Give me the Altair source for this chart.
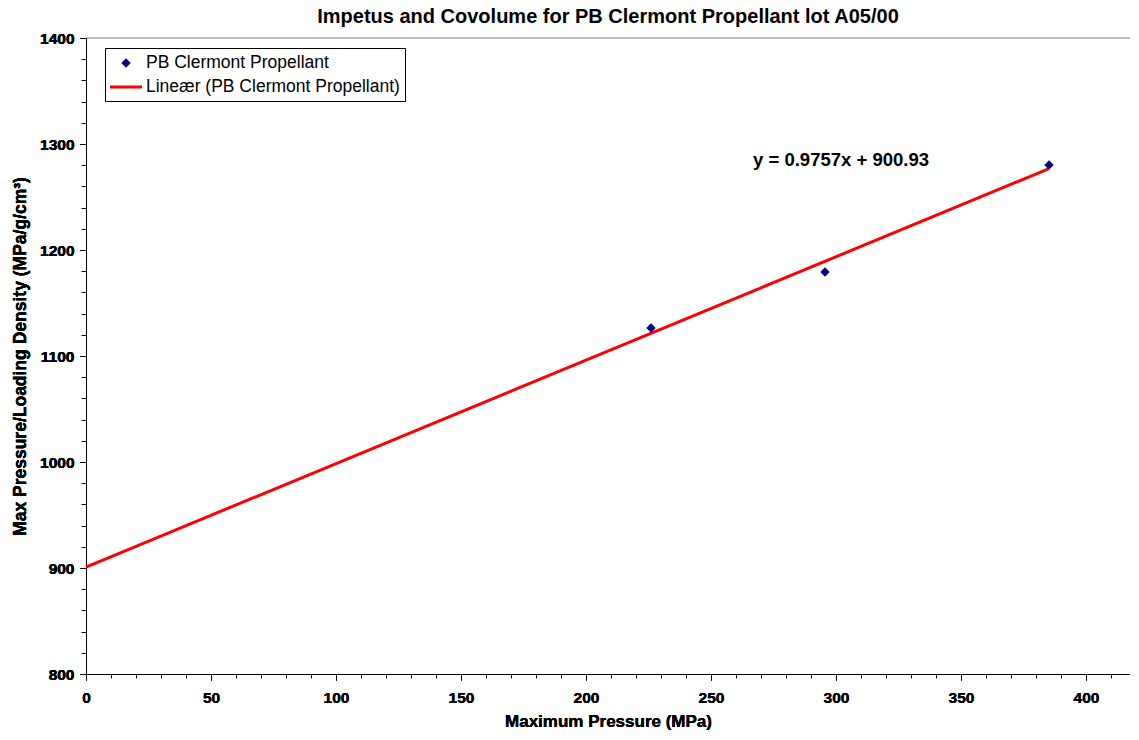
import altair as alt
import pandas as pd

# data
pressure = [226.0, 295.6, 385.2]
impetus_ratio = [1126.4, 1179.2, 1280.2]
trend_x = [0.0, 385.2]
trend_y = [900.93, 1276.77]
eq_label = ["y = 0.9757x + 900.93"]
eq_x = [302.0]
eq_y = [1285.0]
top_line = [1400]

series_pts = "PB Clermont Propellant"
series_lin = "Lineær (PB Clermont Propellant)"

FONT = "Liberation Sans"

pts = pd.DataFrame({"x": pressure, "y": impetus_ratio, "series": [series_pts] * 3})
lin = pd.DataFrame({"x": trend_x, "y": trend_y, "series": [series_lin] * 2})
eq = pd.DataFrame({"x": eq_x, "y": eq_y, "t": eq_label})
top = pd.DataFrame({"y": top_line})

W = 1044
xs = alt.Scale(domain=[0, W / 2.5], nice=False)
ys = alt.Scale(domain=[800, 1400], nice=False)
dom = [series_pts, series_lin]
color_scale = alt.Scale(domain=dom, range=["#000080", "#FF0000"])
shape_scale = alt.Scale(domain=dom, range=["M0,-0.47L0.47,0L0,0.47L-0.47,0Z",
                                           "M-1.6,-0.15H1.6V0.15H-1.6Z"])

legend = alt.Legend(title=None, orient="none", legendX=19, legendY=10,
                    strokeColor="black", fillColor="white", padding=5,
                    symbolSize=400, symbolOffset=6, labelOffset=10, rowPadding=5,
                    symbolStrokeWidth=0, labelFont=FONT, labelFontSize=17.5,
                    labelColor="black", labelLimit=400)

x_main = alt.Axis(values=list(range(0, 401, 50)), tickSize=6, labelFontSize=15.5,
                  labelFont=FONT, labelFontWeight="bold", labelColor="black",
                  labelPadding=10, domainColor="black", tickColor="black",
                  title="Maximum Pressure (MPa)", titleFont=FONT, titleFontSize=17,
                  titleFontWeight="bold", titleColor="black", titlePadding=8,
                  grid=False, orient="bottom", labelFlush=False, format="d")
y_main = alt.Axis(values=list(range(800, 1401, 100)), tickSize=6, labelFontSize=15.5,
                  labelFont=FONT, labelFontWeight="bold", labelColor="black",
                  labelPadding=6, domainColor="black", tickColor="black",
                  title="Max Pressure/Loading Density (MPa/g/cm³)", titleFont=FONT,
                  titleFontSize=17.5, titleFontWeight="bold", titleColor="black",
                  titlePadding=10, grid=False, orient="left", labelFlush=False,
                  format="d")
x_minor = alt.Axis(values=list(range(0, 421, 10)), tickSize=4, labels=False,
                   title=None, domainColor="black", tickColor="black", grid=False,
                   orient="bottom")
y_minor = alt.Axis(values=list(range(800, 1401, 20)), tickSize=5, labels=False,
                   title=None, domainColor="black", tickColor="black", grid=False,
                   orient="left")

minor = alt.Chart(pts).mark_point(opacity=0).encode(
    x=alt.X("x:Q", scale=xs, axis=x_minor),
    y=alt.Y("y:Q", scale=ys, axis=y_minor),
)

top_rule = alt.Chart(top).mark_rule(color="#808080", strokeWidth=1).encode(
    y=alt.Y("y:Q", scale=ys, axis=y_main)
)

line = alt.Chart(lin).mark_line(strokeWidth=3).encode(
    x=alt.X("x:Q", scale=xs, axis=x_main),
    y=alt.Y("y:Q", scale=ys, axis=y_main),
    color=alt.Color("series:N", scale=color_scale, legend=legend),
)

points = alt.Chart(pts).mark_point(filled=True, size=400, opacity=1).encode(
    x=alt.X("x:Q", scale=xs, axis=x_main),
    y=alt.Y("y:Q", scale=ys, axis=y_main),
    color=alt.Color("series:N", scale=color_scale, legend=legend),
    shape=alt.Shape("series:N", scale=shape_scale, legend=legend),
)

eq_text = alt.Chart(eq).mark_text(font=FONT, fontSize=18.5, fontWeight="bold",
                                  color="black").encode(
    x=alt.X("x:Q", scale=xs, axis=x_main),
    y=alt.Y("y:Q", scale=ys, axis=y_main),
    text="t:N",
)

chart = alt.layer(minor, top_rule, line, points, eq_text).resolve_axis(
    x="independent", y="independent"
).properties(
    width=W, height=636,
    padding={"left": 78, "top": 30, "right": 0, "bottom": 58},
    autosize=alt.AutoSizeParams(type="none"),
    title=alt.Title("Impetus and Covolume for PB Clermont Propellant lot A05/00",
                    font=FONT, fontSize=20, fontWeight="bold", color="black",
                    offset=4, anchor="middle"),
    background="white",
).configure_view(stroke=None)

chart.save("out.html", embed_options={"renderer": "svg", "actions": False})
